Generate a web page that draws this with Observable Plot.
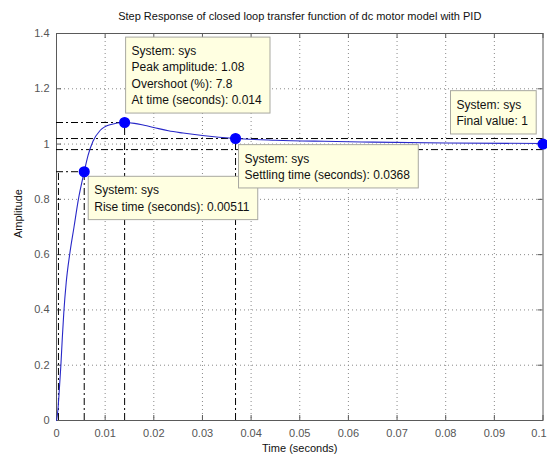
<!DOCTYPE html>
<html><head><meta charset="utf-8">
<script src="https://cdn.jsdelivr.net/npm/d3@7"></script>
<script src="https://cdn.jsdelivr.net/npm/@observablehq/plot@0.6"></script>
<style>
html,body{margin:0;padding:0;background:#fff;}
#chart svg{display:block;}
</style></head><body><div id="chart"></div>
<script>
const title = "Step Response of closed loop transfer function of dc motor model with PID";
const xLabel = "Time (seconds)";
const yLabel = "Amplitude";

// step response samples
const time =      [0, 0.0003, 0.0005, 0.0009, 0.0012, 0.0015, 0.002, 0.0027, 0.0036, 0.0045, 0.0057, 0.0065, 0.0075, 0.009, 0.011, 0.014, 0.016, 0.018, 0.02, 0.023, 0.026, 0.03, 0.0368, 0.045, 0.055, 0.065, 0.08, 0.1];
const amplitude = [0, 0.04,   0.09,   0.2,    0.3,    0.39,   0.5,   0.6,    0.7,    0.8,    0.9,    0.96,   1.01,   1.05,  1.07,  1.078, 1.075, 1.068, 1.06, 1.048, 1.04,  1.031, 1.02,  1.014, 1.01,  1.007, 1.004, 1.002];

const xTicks = [0, 0.01, 0.02, 0.03, 0.04, 0.05, 0.06, 0.07, 0.08, 0.09, 0.1];
const xTickLabels = ["0", "0.01", "0.02", "0.03", "0.04", "0.05", "0.06", "0.07", "0.08", "0.09", "0.1"];
const yTicks = [0, 0.2, 0.4, 0.6, 0.8, 1, 1.2, 1.4];
const yTickLabels = ["0", "0.2", "0.4", "0.6", "0.8", "1", "1.2", "1.4"];

// characteristic points (data tips)
const tipTime = [0.0057, 0.014, 0.0368, 0.1];
const tipAmp = [0.9, 1.078, 1.02, 1.0];
const tipLabels = [
  "System: sys\nRise time (seconds): 0.00511",
  "System: sys\nPeak amplitude: 1.08\nOvershoot (%): 7.8\nAt time (seconds): 0.014",
  "System: sys\nSettling time (seconds): 0.0368",
  "System: sys\nFinal value: 1"
];
const riseStartTime = [0.0004];
const settlingBand = [0.98, 1.02];

const FONT = "'Liberation Sans', Arial, Helvetica, sans-serif";
const curve = time.map((t, i) => ({t, a: amplitude[i]}));
const tips = tipTime.map((t, i) => ({t, a: tipAmp[i], label: tipLabels[i]}));
const DD = "7,3,2,3";
const AX = "#5a5a5a";
const FW = 486.5, FH = 387;
const fmtX = d => xTickLabels[xTicks.indexOf(d)];

const tipStyle = {x: "t", y: "a", text: "label", textAnchor: "start", lineAnchor: "top", lineHeight: 1.36, fontSize: 12, fill: "#111"};

const plot = Plot.plot({
  width: 547, height: 461,
  marginLeft: 56, marginRight: 4.5, marginTop: 33, marginBottom: 41,
  style: {fontFamily: FONT, fontSize: "11px", background: "#fff", overflow: "visible"},
  x: {domain: [0, 0.1]},
  y: {domain: [0, 1.4]},
  marks: [
    Plot.gridX(xTicks.slice(1, -1), {stroke: "#8a8a8a", strokeOpacity: 1, strokeDasharray: "1,3"}),
    Plot.gridY(yTicks.slice(1, -1), {stroke: "#8a8a8a", strokeOpacity: 1, strokeDasharray: "1,3"}),
    Plot.frame({stroke: AX}),
    Plot.ruleX(xTicks, {x: d => d, insetTop: FH - 5, stroke: AX}),
    Plot.ruleX(xTicks, {x: d => d, insetBottom: FH - 5, stroke: AX}),
    Plot.ruleY(yTicks, {y: d => d, insetRight: FW - 5, stroke: AX}),
    Plot.ruleY(yTicks, {y: d => d, insetLeft: FW - 5, stroke: AX}),
    Plot.axisX(xTicks.slice(0, -1), {tickSize: 0, tickPadding: 8.5, tickFormat: fmtX, label: null, fill: "#555", fontSize: 11}),
    Plot.axisX(xTicks.slice(-1), {tickSize: 0, tickPadding: 8.5, tickFormat: fmtX, label: null, fill: "#555", fontSize: 11, dx: -4}),
    Plot.axisY(yTicks, {tickSize: 0, tickPadding: 7, tickFormat: d => yTickLabels[yTicks.indexOf(d)], label: null, fill: "#555", fontSize: 11}),
    // characteristic lines (dash-dot)
    Plot.ruleY(settlingBand, {y: d => d, stroke: "#000", strokeDasharray: DD}),
    Plot.ruleX(tips.slice(0, 3), {x: "t", y1: 0, y2: "a", stroke: "#000", strokeDasharray: DD}),
    Plot.ruleY(tips.slice(0, 2), {y: "a", x1: 0, x2: "t", stroke: "#000", strokeDasharray: DD}),
    Plot.ruleX(riseStartTime, {x: d => d, y1: 0, y2: tipAmp[0], stroke: "#000", strokeDasharray: DD}),
    // response curve
    Plot.line(curve, {x: "t", y: "a", stroke: "#2828c8", strokeWidth: 1.1, curve: "monotone-x"}),
    Plot.dot(tips, {x: "t", y: "a", r: 4.8, fill: "#0000ff", stroke: "#0000ff"}),
    // data tips
    Plot.text([tips[0]], {...tipStyle, dx: 10, dy: 11}),
    Plot.text([tips[1]], {...tipStyle, dx: 7, dy: -79}),
    Plot.text([tips[2]], {...tipStyle, dx: 9, dy: 12.5}),
    Plot.text([tips[3]], {...tipStyle, dx: -86.5, dy: -47}),
    // title and axis labels
    Plot.text([title], {frameAnchor: "top", dy: -17, lineAnchor: "middle", fontSize: 11, fill: "#111"}),
    Plot.text([xLabel], {frameAnchor: "bottom", dy: 27.5, lineAnchor: "middle", fontSize: 11, fill: "#111"}),
    Plot.text([yLabel], {frameAnchor: "left", rotate: -90, dx: -38, dy: 11, lineAnchor: "middle", fontSize: 11, fill: "#111"})
  ]
});
document.getElementById("chart").append(plot);

// yellow data-tip boxes behind the tip texts
plot.querySelectorAll("text").forEach(t => {
  if (!t.textContent.startsWith("System:")) return;
  const b = t.getBBox();
  const r = document.createElementNS("http://www.w3.org/2000/svg", "rect");
  r.setAttribute("x", b.x - 6);
  r.setAttribute("y", b.y - 7);
  r.setAttribute("width", b.width + 14);
  r.setAttribute("height", b.height + 13);
  r.setAttribute("fill", "#ffffe1");
  r.setAttribute("stroke", "#a8a8a0");
  r.setAttribute("stroke-width", "1");
  const tr = t.getAttribute("transform");
  if (tr) r.setAttribute("transform", tr);
  t.parentNode.insertBefore(r, t);
});
</script>
</body></html>
